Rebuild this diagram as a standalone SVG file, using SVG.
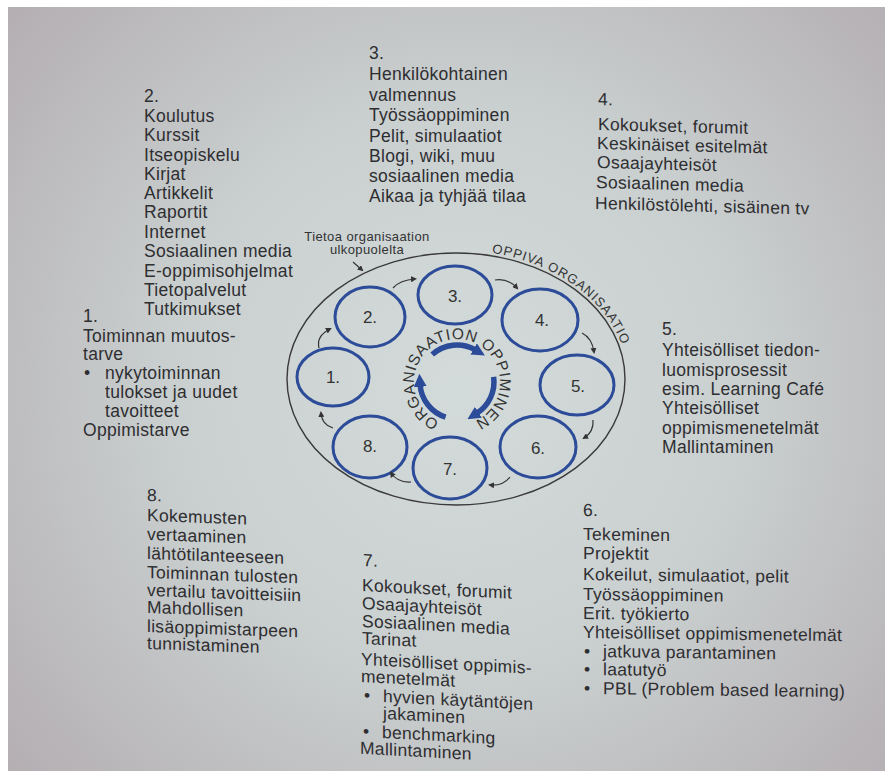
<svg xmlns="http://www.w3.org/2000/svg" width="885" height="771" viewBox="0 0 885 771">
<defs>
<radialGradient id="bg" cx="460" cy="390" r="620" gradientUnits="userSpaceOnUse">
<stop offset="0" stop-color="#d3dbda"/>
<stop offset="0.45" stop-color="#cad0d0"/>
<stop offset="1" stop-color="#b2abb0"/>
</radialGradient>
<marker id="ah" viewBox="0 0 6 6" markerWidth="6" markerHeight="6" refX="4" refY="3" orient="auto" markerUnits="userSpaceOnUse">
<path d="M0,0 L6,3 L0,6 z" fill="#333"/>
</marker>
<marker id="bh" viewBox="0 0 12 12" markerWidth="13" markerHeight="13" refX="2" refY="6" orient="auto" markerUnits="userSpaceOnUse">
<path d="M0,0 L12,6 L0,12 z" fill="#2c4b98"/>
</marker>
<path id="innerPath" d="M439.5,421.3 A43,43 0 1,1 474.5,421.3"/>
<path id="outerPath" d="M491.8,252.8 A172,129 0 0,1 627.3,367.8"/>
</defs>
<style>
.t{font-family:"Liberation Sans",Arial,sans-serif;font-size:17.5px;fill:#2e2e31;letter-spacing:0.3px}
.c{fill:none;stroke:#2c4b98;stroke-width:3}
.cl{font-family:"Liberation Sans",Arial,sans-serif;font-size:17px;fill:#333;text-anchor:middle}
.sa{fill:none;stroke:#333;stroke-width:1.2;marker-end:url(#ah)}
.ba{fill:none;stroke:#2c4b98;stroke-width:5.5;marker-end:url(#bh)}
.cap{font-family:"Liberation Sans",Arial,sans-serif;fill:#333}
</style>
<rect x="0" y="0" width="885" height="771" fill="url(#bg)"/>
<rect x="0" y="0" width="885" height="7" fill="#ffffff"/>
<rect x="0" y="0" width="8" height="771" fill="#ffffff"/>

<g id="oppiva-organisaatio">
<ellipse cx="456" cy="379" rx="169" ry="126" fill="none" stroke="#3a3a3a" stroke-width="1.4"/>
<text class="cap" font-size="13" letter-spacing="1"><textPath href="#outerPath">OPPIVA ORGANISAATIO</textPath></text>
</g>

<g id="tietoa">
<text class="cap" font-size="13" text-anchor="middle" letter-spacing="0.4"><tspan x="367" y="241">Tietoa organisaation</tspan><tspan x="367" y="254">ulkopuolelta</tspan></text>
</g>

<g id="center">
<text class="cap" font-size="15.5" letter-spacing="0.6" fill="#2a2a2e"><textPath href="#innerPath">ORGANISAATION OPPIMINEN</textPath></text>
</g>

<g id="node1"><ellipse class="c" cx="333" cy="377" rx="36" ry="29"/><text class="cl" x="333" y="383">1.</text></g>
<g id="node2"><ellipse class="c" cx="370" cy="317" rx="35" ry="30"/><text class="cl" x="370" y="323">2.</text></g>
<g id="node3"><ellipse class="c" cx="455" cy="295" rx="37" ry="29"/><text class="cl" x="455" y="302">3.</text></g>
<g id="node4"><ellipse class="c" cx="540" cy="320" rx="38" ry="31"/><text class="cl" x="542" y="326">4.</text></g>
<g id="node5"><ellipse class="c" cx="577" cy="385" rx="37" ry="30"/><text class="cl" x="578" y="392">5.</text></g>
<g id="node6"><ellipse class="c" cx="538" cy="447" rx="38" ry="31"/><text class="cl" x="538" y="454">6.</text></g>
<g id="node7"><ellipse class="c" cx="450" cy="468" rx="37" ry="31"/><text class="cl" x="450" y="475">7.</text></g>
<g id="node8"><ellipse class="c" cx="370" cy="447" rx="37" ry="31"/><text class="cl" x="370" y="452">8.</text></g>

<g id="connectors">
<path class="sa" d="M319,348 Q316,336 330,329"/>
<path class="sa" d="M393,288 Q400,280 415,279"/>
<path class="sa" d="M495,280 Q508,278 517,288"/>
<path class="sa" d="M582,333 Q592,338 594,352"/>
<path class="sa" d="M593,420 Q594,432 584,438"/>
<path class="sa" d="M510,477 Q503,486 490,485"/>
<path class="sa" d="M411,482 Q398,483 391,473"/>
<path class="sa" d="M333,428 Q322,425 321,413"/>
<path class="sa" stroke-width="1.6" d="M353,262 L362,270"/>
<path class="ba" d="M432.2,354.5 A37,37 0 0,1 475.5,350"/>
<path class="ba" d="M493.6,376.8 A37,37 0 0,1 476.6,413.4"/>
<path class="ba" d="M445.6,417.2 A37,37 0 0,1 420.1,384.6"/>
</g>

<g id="text1">
<text class="t" x="83" y="322">1.</text>
<text class="t" x="83" y="342">Toiminnan muutos-</text>
<text class="t" x="83" y="360">tarve</text>
<text class="t" x="84" y="379">•</text>
<text class="t" x="105" y="379">nykytoiminnan</text>
<text class="t" x="105" y="398">tulokset ja uudet</text>
<text class="t" x="105" y="417">tavoitteet</text>
<text class="t" x="83" y="436">Oppimistarve</text>
</g>

<g id="text2">
<text class="t" x="144" y="102">2.</text>
<text class="t" x="144" y="122">Koulutus</text>
<text class="t" x="144" y="141">Kurssit</text>
<text class="t" x="144" y="161">Itseopiskelu</text>
<text class="t" x="144" y="180">Kirjat</text>
<text class="t" x="144" y="199">Artikkelit</text>
<text class="t" x="144" y="218">Raportit</text>
<text class="t" x="144" y="238">Internet</text>
<text class="t" x="144" y="257">Sosiaalinen media</text>
<text class="t" x="144" y="277">E-oppimisohjelmat</text>
<text class="t" x="144" y="296">Tietopalvelut</text>
<text class="t" x="144" y="315">Tutkimukset</text>
</g>

<g id="text3">
<text class="t" x="369" y="59">3.</text>
<text class="t" x="369" y="80">Henkilökohtainen</text>
<text class="t" x="369" y="101">valmennus</text>
<text class="t" x="369" y="121">Työssäoppiminen</text>
<text class="t" x="369" y="142">Pelit, simulaatiot</text>
<text class="t" x="369" y="162">Blogi, wiki, muu</text>
<text class="t" x="369" y="182">sosiaalinen media</text>
<text class="t" x="369" y="202">Aikaa ja tyhjää tilaa</text>
</g>

<g id="text4" transform="translate(598,0) skewY(1.5) translate(-598,0)">
<text class="t" x="598" y="105">4.</text>
<text class="t" x="598" y="130">Kokoukset, forumit</text>
<text class="t" x="597" y="149">Keskinäiset esitelmät</text>
<text class="t" x="597" y="168">Osaajayhteisöt</text>
<text class="t" x="596" y="188">Sosiaalinen media</text>
<text class="t" x="595" y="209">Henkilöstölehti, sisäinen tv</text>
</g>

<g id="text5">
<text class="t" x="662" y="335">5.</text>
<text class="t" x="662" y="356">Yhteisölliset tiedon-</text>
<text class="t" x="662" y="376">luomisprosessit</text>
<text class="t" x="662" y="395">esim. Learning Café</text>
<text class="t" x="662" y="414">Yhteisölliset</text>
<text class="t" x="662" y="434">oppimismenetelmät</text>
<text class="t" x="662" y="453">Mallintaminen</text>
</g>

<g id="text6" transform="translate(583,0) skewY(0.7) translate(-583,0)">
<text class="t" x="583" y="516">6.</text>
<text class="t" x="583" y="540">Tekeminen</text>
<text class="t" x="583" y="559">Projektit</text>
<text class="t" x="583" y="580">Kokeilut, simulaatiot, pelit</text>
<text class="t" x="583" y="600">Työssäoppiminen</text>
<text class="t" x="583" y="619">Erit. työkierto</text>
<text class="t" x="583" y="638">Yhteisölliset oppimismenetelmät</text>
<text class="t" x="584" y="657">•</text>
<text class="t" x="603" y="657">jatkuva parantaminen</text>
<text class="t" x="584" y="675">•</text>
<text class="t" x="603" y="675">laatutyö</text>
<text class="t" x="584" y="694">•</text>
<text class="t" x="603" y="694">PBL (Problem based learning)</text>
</g>

<g id="text7" transform="translate(363,0) skewY(3) translate(-363,0)">
<text class="t" x="363" y="566">7.</text>
<text class="t" x="362" y="591">Kokoukset, forumit</text>
<text class="t" x="362" y="609">Osaajayhteisöt</text>
<text class="t" x="362" y="627">Sosiaalinen media</text>
<text class="t" x="362" y="644">Tarinat</text>
<text class="t" x="361" y="665">Yhteisölliset oppimis-</text>
<text class="t" x="361" y="682">menetelmät</text>
<text class="t" x="364" y="701">•</text>
<text class="t" x="383" y="701">hyvien käytäntöjen</text>
<text class="t" x="383" y="718">jakaminen</text>
<text class="t" x="363" y="737">•</text>
<text class="t" x="382" y="737">benchmarking</text>
<text class="t" x="360" y="754">Mallintaminen</text>
</g>

<g id="text8" transform="translate(147,0) skewY(2) translate(-147,0)">
<text class="t" x="147" y="501">8.</text>
<text class="t" x="147" y="521">Kokemusten</text>
<text class="t" x="147" y="540">vertaaminen</text>
<text class="t" x="147" y="559">lähtötilanteeseen</text>
<text class="t" x="147" y="578">Toiminnan tulosten</text>
<text class="t" x="147" y="596">vertailu tavoitteisiin</text>
<text class="t" x="147" y="613">Mahdollisen</text>
<text class="t" x="147" y="632">lisäoppimistarpeen</text>
<text class="t" x="147" y="649">tunnistaminen</text>
</g>
</svg>
